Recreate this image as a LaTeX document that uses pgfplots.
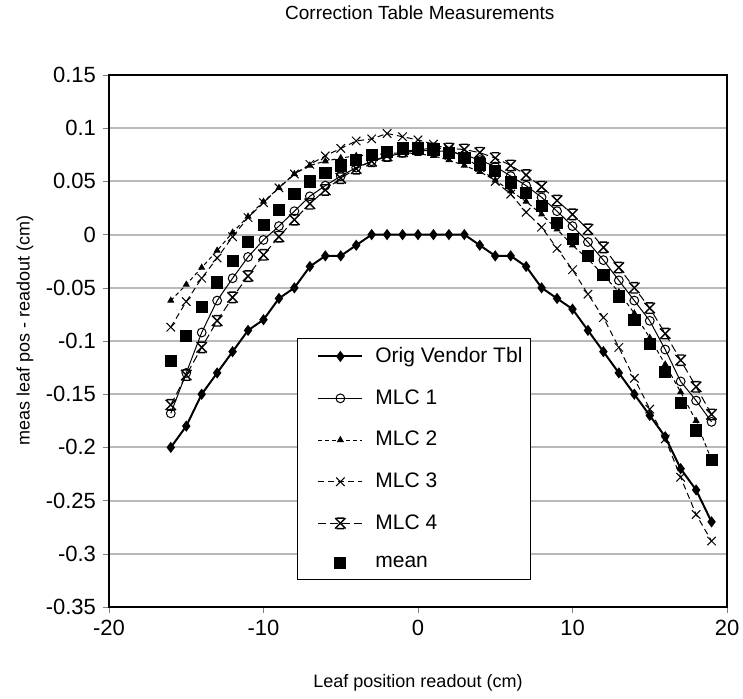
\documentclass[border=0pt]{standalone}
\usepackage{pgfplots}
\usepackage{pgfplotstable}
\pgfplotsset{compat=1.18}
\usepackage{fontspec}
\setmainfont{Liberation Sans}

\pgfdeclareplotmark{hourglass}{%
  \pgfpathmoveto{\pgfqpoint{-\pgfplotmarksize}{\pgfplotmarksize}}%
  \pgfpathlineto{\pgfqpoint{\pgfplotmarksize}{-\pgfplotmarksize}}%
  \pgfpathmoveto{\pgfqpoint{-\pgfplotmarksize}{-\pgfplotmarksize}}%
  \pgfpathlineto{\pgfqpoint{\pgfplotmarksize}{\pgfplotmarksize}}%
  \pgfpathmoveto{\pgfqpoint{-0.7\pgfplotmarksize}{\pgfplotmarksize}}%
  \pgfpathlineto{\pgfqpoint{0.7\pgfplotmarksize}{\pgfplotmarksize}}%
  \pgfpathmoveto{\pgfqpoint{-0.7\pgfplotmarksize}{-\pgfplotmarksize}}%
  \pgfpathlineto{\pgfqpoint{0.7\pgfplotmarksize}{-\pgfplotmarksize}}%
  \pgfusepathqstroke}

\pgfplotstableread{
x orig m1 m2 m3 m4 mean
-16 -0.20 -0.168 -0.062 -0.087 -0.160 -0.119
-15 -0.18 -0.130 -0.047 -0.063 -0.132 -0.095
-14 -0.15 -0.092 -0.031 -0.041 -0.106 -0.068
-13 -0.13 -0.062 -0.015 -0.022 -0.081 -0.045
-12 -0.11 -0.041 0.002 -0.002 -0.059 -0.025
-11 -0.09 -0.021 0.017 0.016 -0.039 -0.007
-10 -0.08 -0.005 0.031 0.030 -0.019 0.009
-9 -0.06 0.008 0.044 0.044 -0.002 0.023
-8 -0.05 0.022 0.057 0.057 0.014 0.038
-7 -0.03 0.036 0.065 0.066 0.029 0.050
-6 -0.02 0.046 0.069 0.074 0.042 0.058
-5 -0.02 0.055 0.072 0.081 0.053 0.065
-4 -0.01 0.063 0.074 0.088 0.062 0.070
-3 0 0.069 0.075 0.090 0.069 0.075
-2 0 0.073 0.076 0.095 0.074 0.078
-1 0 0.077 0.077 0.092 0.078 0.081
0 0 0.079 0.076 0.089 0.080 0.081
1 0 0.079 0.074 0.085 0.081 0.080
2 0 0.078 0.070 0.080 0.081 0.077
3 0 0.075 0.065 0.073 0.080 0.072
4 -0.01 0.070 0.059 0.063 0.077 0.066
5 -0.02 0.064 0.051 0.050 0.072 0.060
6 -0.02 0.055 0.041 0.038 0.065 0.049
7 -0.03 0.046 0.031 0.021 0.056 0.039
8 -0.05 0.035 0.019 0.007 0.045 0.027
9 -0.06 0.022 0.005 -0.013 0.032 0.011
10 -0.07 0.008 -0.010 -0.033 0.019 -0.004
11 -0.09 -0.007 -0.023 -0.056 0.005 -0.020
12 -0.11 -0.024 -0.038 -0.078 -0.012 -0.038
13 -0.13 -0.043 -0.054 -0.106 -0.031 -0.058
14 -0.15 -0.062 -0.074 -0.135 -0.050 -0.080
15 -0.17 -0.081 -0.097 -0.164 -0.069 -0.103
16 -0.19 -0.108 -0.122 -0.192 -0.093 -0.129
17 -0.22 -0.138 -0.148 -0.228 -0.118 -0.158
18 -0.24 -0.156 -0.175 -0.263 -0.143 -0.184
19 -0.27 -0.176 -0.212 -0.288 -0.169 -0.212
}\data

\begin{document}
\begin{tikzpicture}
\path[use as bounding box] (-54.5pt,-45.5pt) rectangle (317pt,303.5pt);
\begin{axis}[
  at={(0,0)}, anchor=south west,
  scale only axis, width=309pt, height=266pt,
  xmin=-20, xmax=20, ymin=-0.35, ymax=0.15,
  xtick={-20,-10,0,10,20},
  ytick={-0.35,-0.3,-0.25,-0.2,-0.15,-0.1,-0.05,0,0.05,0.1,0.15},
  /pgf/number format/assume math mode=true,
  yticklabel style={/pgf/number format/fixed,/pgf/number format/precision=2},
  tick label style={font=\fontsize{11}{13}\selectfont},
  tick align=outside, major tick length=3pt,
  xtick pos=bottom, ytick pos=left,
  ymajorgrids, grid style={gray!55, line width=1pt},
  axis line style={black, line width=0.7pt},
  title={Correction Table Measurements},
  title style={at={(axis description cs:0.503,1.094)}, anchor=center, font=\fontsize{9.5}{11}\selectfont},
  xlabel={Leaf position readout (cm)},
  xlabel style={at={(axis description cs:0.5,-0.143)}, anchor=center, font=\fontsize{9}{11}\selectfont},
  ylabel={meas leaf pos - readout (cm)},
  ylabel style={at={(axis description cs:-0.136,0.52)}, anchor=center, font=\fontsize{9}{11}\selectfont},
  legend image code/.code={%
    \path (-8pt,0pt) (26pt,0pt);
    \draw[mark repeat=2,mark phase=2,#1] plot coordinates {(0pt,0pt) (11pt,0pt) (22pt,0pt)};},
  legend style={at={(axis description cs:0.304,0.506)}, anchor=north west,
    draw=black, line width=0.5pt, fill=white, inner xsep=2pt, inner ysep=2.5pt,
    font=\fontsize{10.5}{12}\selectfont, row sep=8pt,
    cells={anchor=west}},
]
\addplot[black, line width=1pt, mark=diamond*, mark size=2pt] table[x=x,y=orig]{\data};
\addlegendentry{Orig Vendor Tbl}
\addplot[black, line width=0.5pt, mark=o, mark size=2.2pt, mark options={fill=white}] table[x=x,y=m1]{\data};
\addlegendentry{MLC 1}
\addplot[black, line width=0.5pt, dash pattern=on 2pt off 1.5pt, mark=triangle*, mark size=1.6pt, mark options={solid}] table[x=x,y=m2]{\data};
\addlegendentry{MLC 2}
\addplot[black, line width=0.5pt, dash pattern=on 3pt off 2pt, mark=x, mark size=3pt, mark options={solid}] table[x=x,y=m3]{\data};
\addlegendentry{MLC 3}
\addplot[black, line width=0.5pt, dash pattern=on 4pt off 2pt, mark=hourglass, mark size=2.6pt, mark options={solid, line width=0.7pt}] table[x=x,y=m4]{\data};
\addlegendentry{MLC 4}
\addplot[black, only marks, mark=square*, mark size=2.8pt] table[x=x,y=mean]{\data};
\addlegendentry{mean}
\end{axis}
\end{tikzpicture}
\end{document}
